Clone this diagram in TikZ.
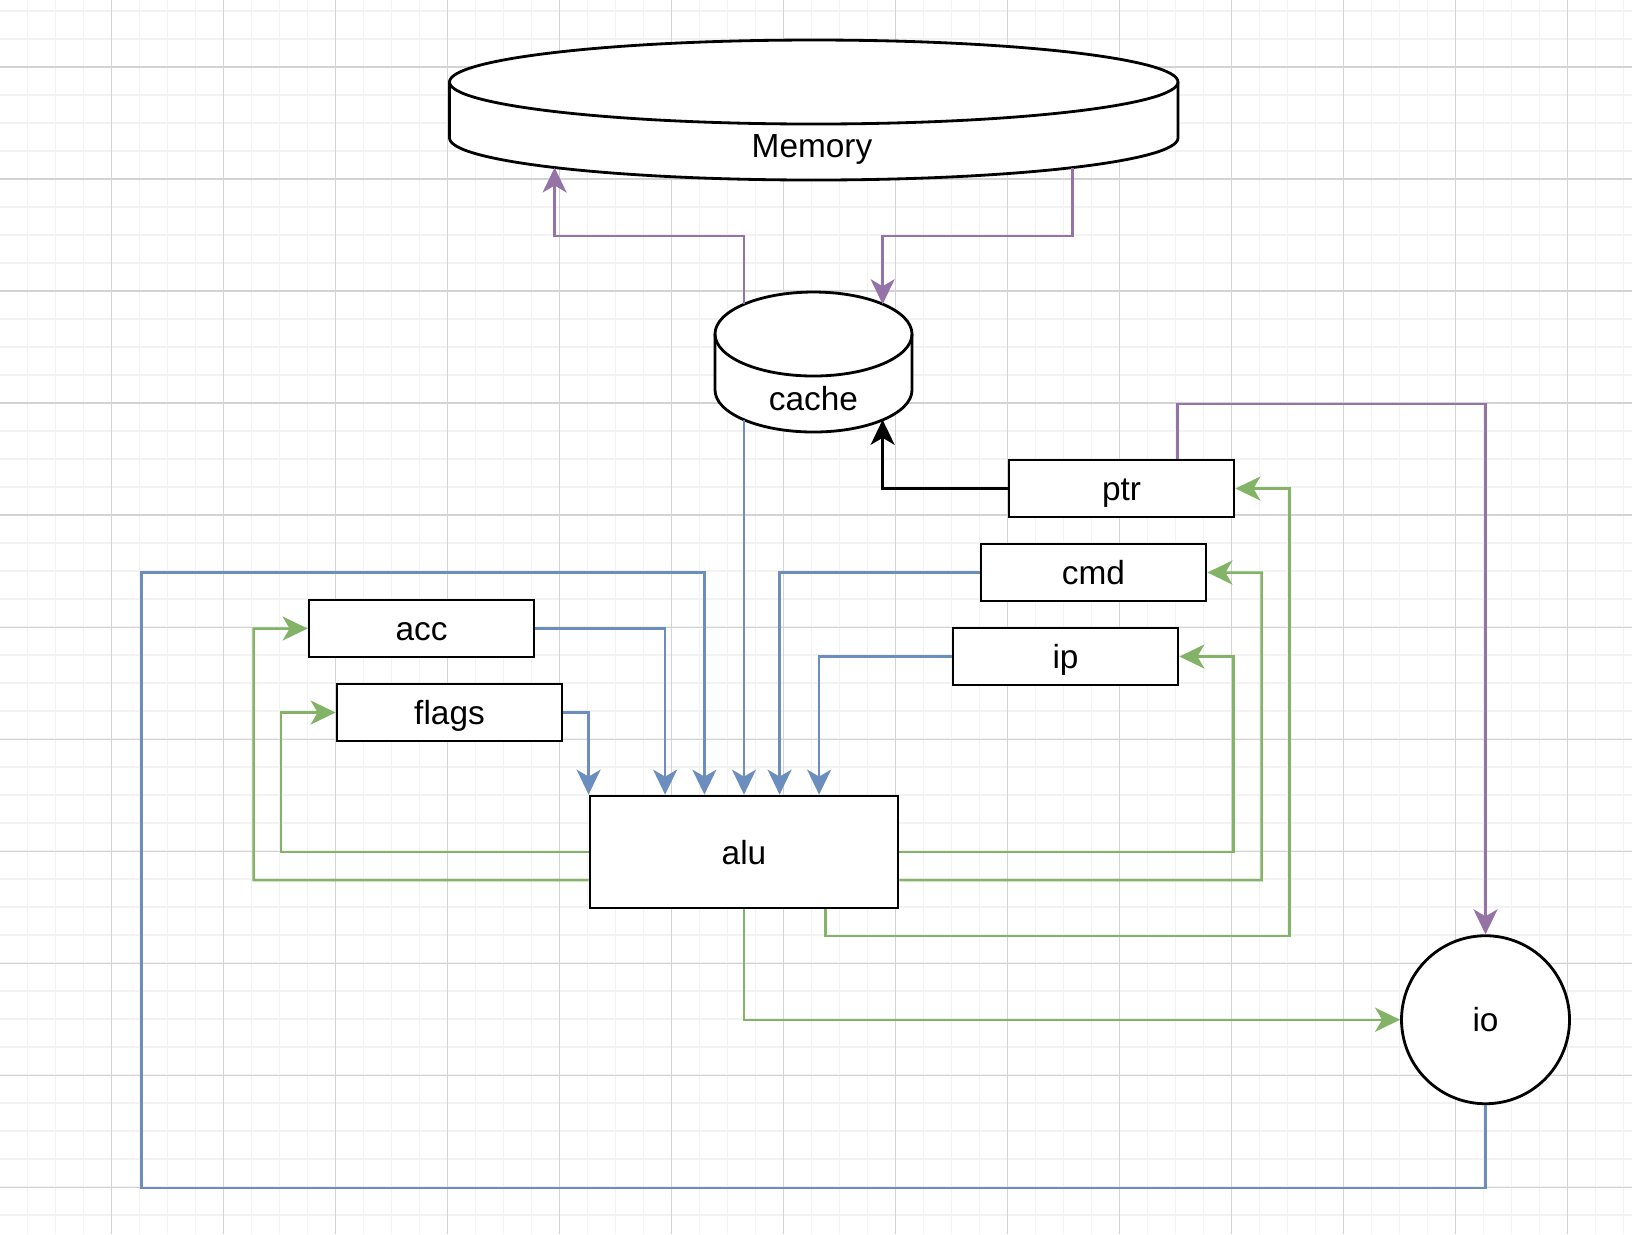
\documentclass[tikz,border=0pt]{standalone}
\usepackage{fontspec}
\setmainfont{Liberation Sans}
\usetikzlibrary{arrows.meta}

\definecolor{minorgray}{HTML}{F2F2F2}
\definecolor{majorgray}{HTML}{D3D3D3}
\definecolor{drawblue}{HTML}{6C8EBF}
\definecolor{drawgreen}{HTML}{82B366}
\definecolor{drawpurple}{HTML}{9673A6}

\begin{document}
\begin{tikzpicture}[
        font=\fontsize{9.5}{11}\selectfont,
        every node/.style={text height=0.905em, text depth=0.212em, inner sep=0pt},
        block/.style={draw, line width=0.8pt, fill=white, minimum width=2.25cm, minimum height=0.57cm},
        shapeline/.style={draw=black, line width=0.8pt, fill=white},
        wire/.style={line width=0.7pt, -{Stealth[length=0.25cm, width=0.24cm, inset=0.07cm]}},
        bluewire/.style={wire, draw=drawblue},
        greenwire/.style={wire, draw=drawgreen},
        purplewire/.style={wire, draw=drawpurple},
        minorline/.style={draw=minorgray, line width=0.4pt},
        majorline/.style={draw=majorgray, line width=0.3pt}
    ]
        \useasboundingbox (0,0) rectangle (16.32,-12.34);
        \fill[white] (0,0) rectangle (16.32,-12.34);

        % Grid
        \foreach \gx in {0.275,0.555,...,16.32} \draw[minorline] (\gx,0) -- (\gx,-12.34);
        \foreach \gy in {-0.11,-0.39,...,-12.34} \draw[minorline] (0,\gy) -- (16.32,\gy);
        \foreach \gx in {1.115,2.235,...,16.32} \draw[majorline] (\gx,0) -- (\gx,-12.34);
        \foreach \gy in {-0.67,-1.79,...,-12.34} \draw[majorline] (0,\gy) -- (16.32,\gy);

        % Cylinders
        \filldraw[shapeline] (4.495,-0.82) -- (4.495,-1.38) arc[start angle=180, end angle=360, x radius=3.6425, y radius=0.42]
            -- (11.78,-0.82) arc[start angle=0, end angle=180, x radius=3.6425, y radius=0.42] -- cycle;
        \draw[shapeline, fill=none] (4.495,-0.82) arc[start angle=180, end angle=360, x radius=3.6425, y radius=0.42];
        \filldraw[shapeline] (7.15,-3.34) -- (7.15,-3.90) arc[start angle=180, end angle=360, x radius=0.985, y radius=0.42]
            -- (9.12,-3.34) arc[start angle=0, end angle=180, x radius=0.985, y radius=0.42] -- cycle;
        \draw[shapeline, fill=none] (7.15,-3.34) arc[start angle=180, end angle=360, x radius=0.985, y radius=0.42];

        % Blocks
        \node (mem) at (8.12,-1.455) {Memory};
        \node (cache) at (8.135,-3.98) {cache};
        \coordinate (mem-in) at (5.546,-1.675);
        \coordinate (mem-out) at (10.724,-1.675);
        \coordinate (cache-top) at (7.44,-3.042);
        \coordinate (cache-in) at (8.826,-3.042);
        \coordinate (cache-bot) at (7.44,-4.198);
        \coordinate (cache-ptr) at (8.826,-4.198);

        \node[block] (acc) at (4.215,-6.285) {acc};
        \node[block] (flags) at (4.495,-7.125) {flags};
        \node[block] (ptr) at (11.215,-4.885) {ptr};
        \node[block] (cmd) at (10.935,-5.725) {cmd};
        \node[block] (ip) at (10.655,-6.565) {ip};
        \node[block, minimum width=3.08cm, minimum height=1.12cm] (alu) at (7.44,-8.52) {alu};
        \node[block, circle, minimum size=1.68cm] (io) at (14.855,-10.197) {io};

        % Arrows
        \draw[purplewire] (cache-top) |- (5.546,-2.36) -- (mem-in);
        \draw[purplewire] (mem-out) |- (8.826,-2.36) -- (cache-in);
        \draw[purplewire] ([xshift=0.56cm]ptr.north) |- (14.855,-4.04) -- (io.north);
        \draw[wire] (ptr.west) -| (cache-ptr);

        \draw[bluewire] (cache-bot) -- (alu.north);
        \draw[bluewire] (flags.east) -| (alu.north west);
        \draw[bluewire] (acc.east) -| ([xshift=0.765cm]alu.north west);
        \draw[bluewire] (cmd.west) -| ([xshift=1.91cm]alu.north west);
        \draw[bluewire] (ip.west) -| ([xshift=2.305cm]alu.north west);
        \draw[bluewire] (io.south) |- (1.417,-11.877) -- (1.417,-5.723) -| ([xshift=1.158cm]alu.north west);

        \draw[greenwire] (alu.west) -- (2.8125,-8.52) |- (flags.west);
        \draw[greenwire] ([yshift=-0.28cm]alu.west) -- (2.536,-8.80) |- (acc.west);
        \draw[greenwire] (alu.east) -- (12.333,-8.52) |- (ip.east);
        \draw[greenwire] ([yshift=-0.28cm]alu.east) -- (12.617,-8.80) |- (cmd.east);
        \draw[greenwire] ([xshift=2.37cm]alu.south west) |- (12.893,-9.36) |- (ptr.east);
        \draw[greenwire] (alu.south) |- (io.west);

    \end{tikzpicture}
\end{document}
